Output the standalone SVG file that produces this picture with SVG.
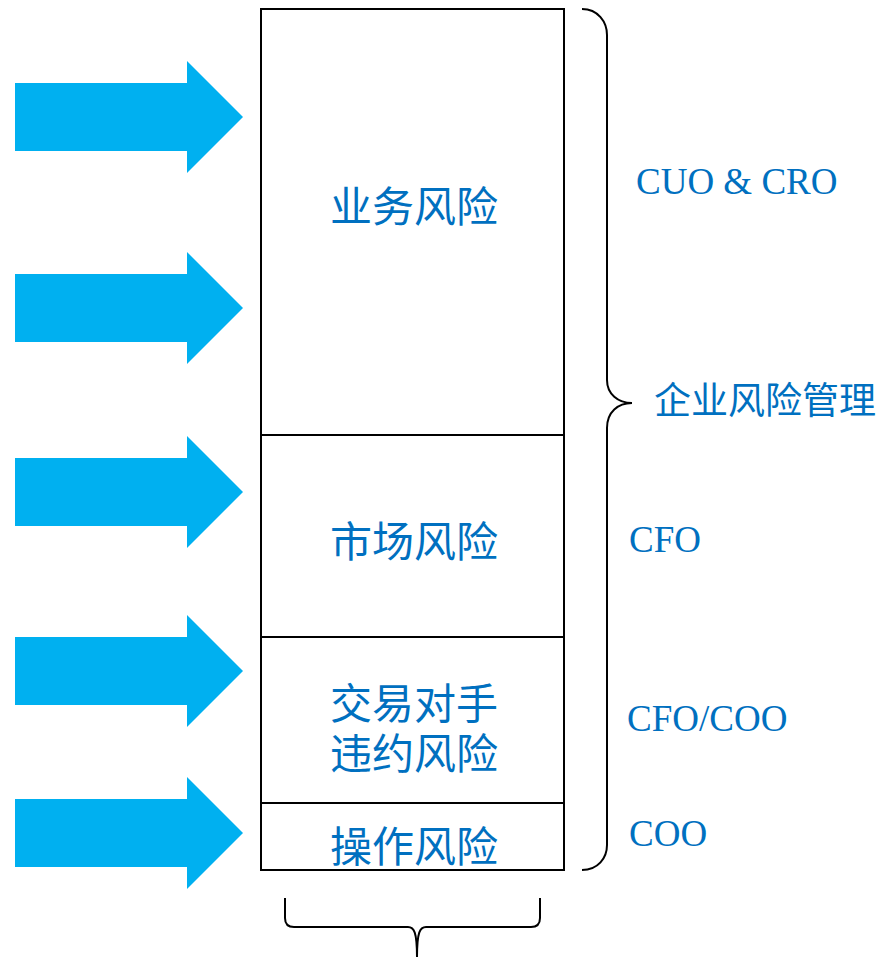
<svg xmlns="http://www.w3.org/2000/svg" width="881" height="957" viewBox="0 0 881 957">
<defs>
<style>
.arrow{fill:#00B0F0;}
.box{fill:#FFFFFF;stroke:#000000;stroke-width:2;}
.brace{fill:none;stroke:#000000;stroke-width:2;}
.cjk{font-family:"Noto Sans CJK SC","Noto Sans",sans-serif;fill:#0070C0;text-anchor:middle;dominant-baseline:central;}
.lat{font-family:"Liberation Serif","Times New Roman",serif;fill:#0070C0;font-size:37px;}
</style>
<polygon id="arrowShape" points="0,-34 172,-34 172,-56 228,0 172,56 172,34 0,34"/>
</defs>
<rect width="881" height="957" fill="#FFFFFF"/>
<g id="arrows">
<use href="#arrowShape" class="arrow" x="15" y="117"/>
<use href="#arrowShape" class="arrow" x="15" y="308"/>
<use href="#arrowShape" class="arrow" x="15" y="492"/>
<use href="#arrowShape" class="arrow" x="15" y="671"/>
<use href="#arrowShape" class="arrow" x="15" y="833"/>
</g>
<g id="node-business">
<rect class="box" x="261" y="9" width="303" height="426"/>
<text class="cjk" x="414" y="203" font-size="42">业务风险</text>
</g>
<g id="node-market">
<rect class="box" x="261" y="435" width="303" height="202"/>
<text class="cjk" x="414" y="538" font-size="42">市场风险</text>
</g>
<g id="node-counterparty">
<rect class="box" x="261" y="637" width="303" height="166"/>
<text class="cjk" x="414" y="700" font-size="42">交易对手</text>
<text class="cjk" x="414" y="750" font-size="42">违约风险</text>
</g>
<g id="node-operation">
<rect class="box" x="261" y="803" width="303" height="67"/>
<text class="cjk" x="414" y="843" font-size="42">操作风险</text>
</g>
<g id="connectors">
<path class="brace" d="M582,9 C598,9 607,22 607,35 L607,380 C607,394 618,403 632,403 C618,403 607,412 607,428 L607,845 C607,858 598,870 582,870"/>
<path class="brace" d="M285,898 L285,918 C285,924 288,927 294,927 L408,927 C414,927 417,932 417,957 C417,932 420,927 426,927 L531,927 C537,927 540,924 540,918 L540,898"/>
</g>
<g id="labels">
<text class="lat" x="636" y="194">CUO &amp; CRO</text>
<text class="cjk" x="765" y="398" font-size="37">企业风险管理</text>
<text class="lat" x="629" y="552">CFO</text>
<text class="lat" x="627" y="731">CFO/COO</text>
<text class="lat" x="629" y="846">COO</text>
</g>
</svg>
